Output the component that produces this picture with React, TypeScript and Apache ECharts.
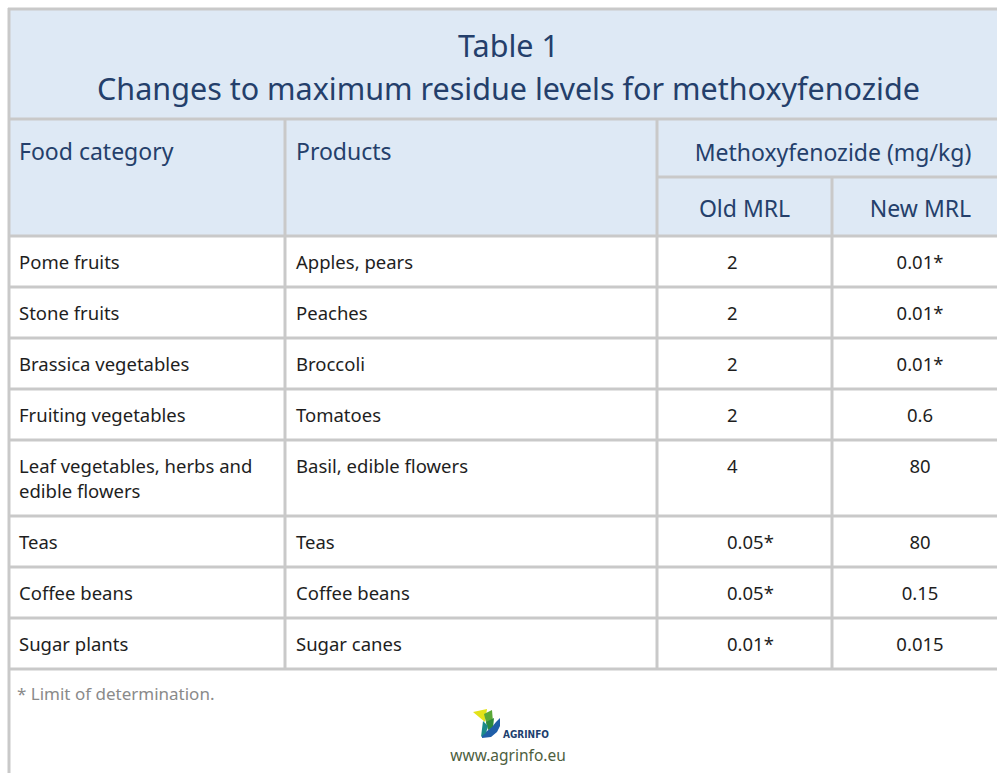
import React, { useEffect, useRef } from "react";
import * as echarts from "echarts";

const titleLines = ["Table 1", "Changes to maximum residue levels for methoxyfenozide"];
const headers = ["Food category", "Products", "Methoxyfenozide (mg/kg)"];
const subHeaders = ["Old MRL", "New MRL"];
const categories = [
  "Pome fruits",
  "Stone fruits",
  "Brassica vegetables",
  "Fruiting vegetables",
  "Leaf vegetables, herbs and edible flowers",
  "Teas",
  "Coffee beans",
  "Sugar plants",
];
const products = [
  "Apples, pears",
  "Peaches",
  "Broccoli",
  "Tomatoes",
  "Basil, edible flowers",
  "Teas",
  "Coffee beans",
  "Sugar canes",
];
const oldMRL = ["2", "2", "2", "2", "4", "0.05*", "0.05*", "0.01*"];
const newMRL = ["0.01*", "0.01*", "0.01*", "0.6", "80", "80", "0.15", "0.015"];
const footnote = "* Limit of determination.";
const brand = "AGRINFO";
const url = "www.agrinfo.eu";

const FONT = "'Noto Sans', 'Open Sans', sans-serif";

export default function App() {
  const ref = useRef<HTMLDivElement>(null);
  useEffect(() => {
    document.body.style.margin = "0";
    const chart = echarts.init(ref.current!, null, { renderer: "svg" });

    const L = 8;
    const R = 1009;
    const T = 8;
    const titleBottom = 119;
    const subTop = 177;
    const headBottom = 236;
    const colX = [L, 285, 657, 832, R];
    const baseRow = 51;
    const lineH = 25;
    const bodyFont = 18.5;
    const headFont = 23;
    const line = "#c9c9c9";
    const lw = 3;
    const headBg = "#dee9f5";
    const headColor = "#243f6b";
    const bodyColor = "#1e1e1e";

    const colW = colX[1] - colX[0] - 22;
    const rowHeights = categories.map((c, i) => {
      const t1 = new (echarts.graphic as any).Text({
        style: { text: c, fontFamily: FONT, fontSize: bodyFont, width: colW, overflow: "break", lineHeight: lineH },
      });
      const t2 = new (echarts.graphic as any).Text({
        style: { text: products[i], fontFamily: FONT, fontSize: bodyFont, width: colX[2] - colX[1] - 22, overflow: "break", lineHeight: lineH },
      });
      const h = Math.max(t1.getBoundingRect().height, t2.getBoundingRect().height);
      const lines = Math.max(1, Math.round(h / lineH));
      return baseRow + (lines - 1) * lineH;
    });
    const rowTops: number[] = [];
    let y = headBottom;
    rowHeights.forEach((h) => {
      rowTops.push(y);
      y += h;
    });
    const tableBottom = y;

    const els: any[] = [];
    els.push({ type: "rect", shape: { x: L, y: T, width: R - L, height: headBottom - T }, style: { fill: headBg }, silent: true });

    titleLines.forEach((t, i) => {
      els.push({
        type: "text",
        x: (L + R) / 2,
        y: 45 + i * 43,
        style: { text: t, fontFamily: FONT, fontSize: 30.5, fill: headColor, align: "center", verticalAlign: "middle" },
      });
    });

    els.push({ type: "text", x: colX[0] + 11, y: 151, style: { text: headers[0], fontFamily: FONT, fontSize: headFont, fill: headColor, verticalAlign: "middle" } });
    els.push({ type: "text", x: colX[1] + 11, y: 151, style: { text: headers[1], fontFamily: FONT, fontSize: headFont, fill: headColor, verticalAlign: "middle" } });
    els.push({ type: "text", x: (colX[2] + colX[4]) / 2, y: 152, style: { text: headers[2], fontFamily: FONT, fontSize: headFont, fill: headColor, align: "center", verticalAlign: "middle" } });
    subHeaders.forEach((s, i) => {
      els.push({ type: "text", x: (colX[2 + i] + colX[3 + i]) / 2, y: 208, style: { text: s, fontFamily: FONT, fontSize: headFont, fill: headColor, align: "center", verticalAlign: "middle" } });
    });

    categories.forEach((c, i) => {
      const ty = rowTops[i] + 13;
      els.push({ type: "text", x: colX[0] + 11, y: ty, style: { text: c, fontFamily: FONT, fontSize: bodyFont, fill: bodyColor, width: colW, overflow: "break", lineHeight: lineH, verticalAlign: "top" } });
      els.push({ type: "text", x: colX[1] + 11, y: ty, style: { text: products[i], fontFamily: FONT, fontSize: bodyFont, fill: bodyColor, width: colX[2] - colX[1] - 22, overflow: "break", lineHeight: lineH, verticalAlign: "top" } });
      els.push({ type: "text", x: 727, y: ty, style: { text: oldMRL[i], fontFamily: FONT, fontSize: bodyFont, fill: bodyColor, lineHeight: lineH, verticalAlign: "top" } });
      els.push({ type: "text", x: 920, y: ty, style: { text: newMRL[i], fontFamily: FONT, fontSize: bodyFont, fill: bodyColor, lineHeight: lineH, align: "center", verticalAlign: "top" } });
    });

    const hline = (x1: number, x2: number, yy: number) =>
      els.push({ type: "rect", shape: { x: x1, y: yy - lw / 2, width: x2 - x1, height: lw }, style: { fill: line }, silent: true });
    const vline = (xx: number, y1: number, y2: number) =>
      els.push({ type: "rect", shape: { x: xx - lw / 2, y: y1, width: lw, height: y2 - y1 }, style: { fill: line }, silent: true });

    hline(L, R, T + 1);
    hline(L, R, titleBottom);
    hline(colX[2], R, subTop);
    hline(L, R, headBottom);
    rowTops.forEach((t, i) => hline(L, R, t + rowHeights[i]));
    vline(L + 1, T, 773);
    vline(colX[1], titleBottom, tableBottom);
    vline(colX[2], titleBottom, tableBottom);
    vline(colX[3], subTop, tableBottom);

    els.push({ type: "text", x: 17, y: 693, style: { text: footnote, fontFamily: FONT, fontSize: 17, fill: "#8a8a8a", verticalAlign: "middle" } });

    els.push({ type: "polygon", shape: { points: [[473, 712], [487, 709], [485, 722]] }, style: { fill: "#e3e21a" } });
    els.push({ type: "polygon", shape: { points: [[484, 714], [492, 710], [493, 722], [487, 726]] }, style: { fill: "#5aa838" } });
    els.push({ type: "polygon", shape: { points: [[486, 722], [494, 718], [493, 728], [488, 730]] }, style: { fill: "#2e8a3c" } });
    els.push({
      type: "polygon",
      shape: { points: [[482, 735], [487, 731], [492, 727], [496, 722], [500, 718], [500, 726], [497, 732], [491, 737], [482, 738]] },
      style: { fill: "#1f5ea8" },
    });
    els.push({ type: "polygon", shape: { points: [[483, 721], [488, 726], [486, 733], [481, 737]] }, style: { fill: "#1a8a8a" } });
    els.push({ type: "text", x: 503, y: 734, style: { text: brand, fontFamily: "'DejaVu Sans Condensed', 'Liberation Sans Narrow', sans-serif", fontSize: 10, fontWeight: "bold", fill: "#1d3f6e", verticalAlign: "middle" } });
    els.push({ type: "text", x: 508, y: 755, style: { text: url, fontFamily: FONT, fontSize: 15.5, fill: "#4d5e3e", align: "center", verticalAlign: "middle" } });

    chart.setOption({ animation: false, graphic: { elements: els } });
    return () => chart.dispose();
  }, []);
  return <div ref={ref} style={{ width: 997, height: 773, background: "#fff" }} />;
}
